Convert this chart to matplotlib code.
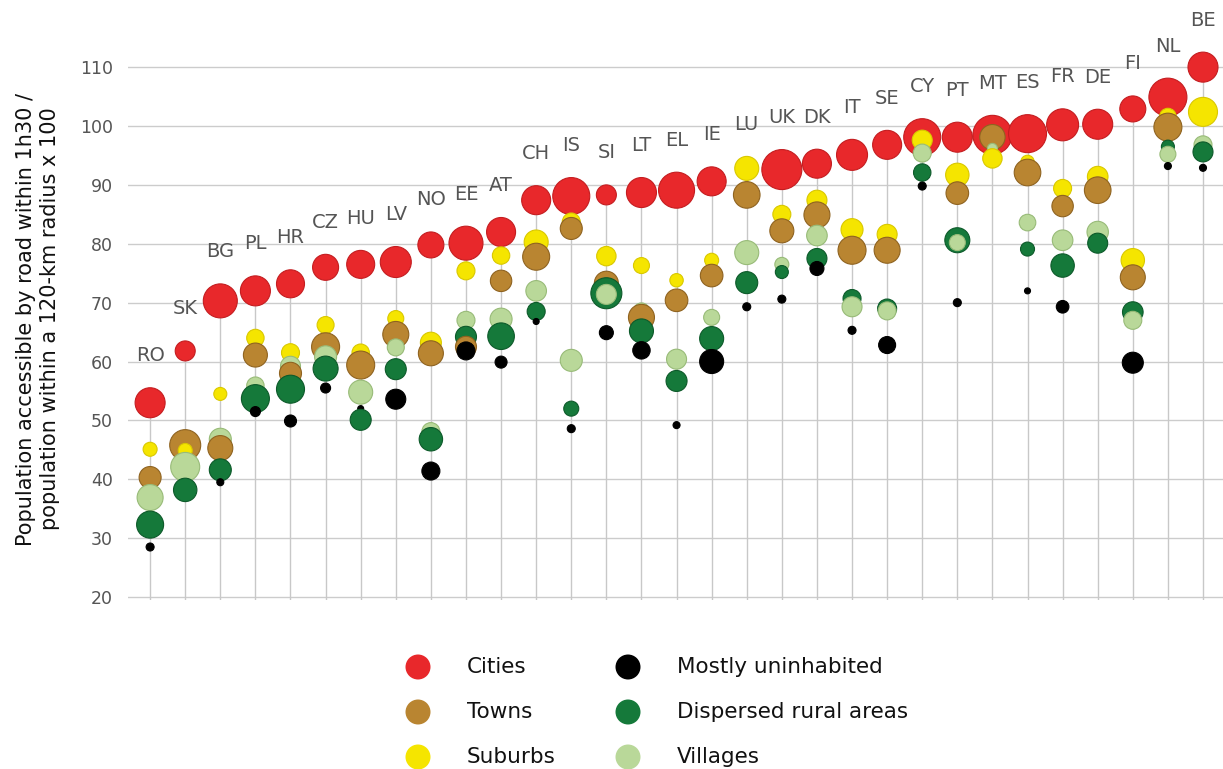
import numpy as np
import matplotlib
matplotlib.use("Agg")
import matplotlib.pyplot as plt

nan = np.nan

countries = ["RO", "SK", "BG", "PL", "HR", "CZ", "HU", "LV", "NO", "EE", "AT",
             "CH", "IS", "SI", "LT", "EL", "IE", "LU", "UK", "DK", "IT", "SE",
             "CY", "PT", "MT", "ES", "FR", "DE", "FI", "NL", "BE"]

cities = [53.0, 61.8, 70.3, 72.0, 73.2, 76.0, 76.5, 76.9, 79.8, 80.1, 82.0,
          87.4, 88.1, 88.3, 88.7, 89.1, 90.6, nan, 92.6, 93.6, 95.1, 96.8,
          98.1, 98.1, 98.5, 98.7, 100.2, 100.3, 102.9, 104.9, 110.0]
cities_r = [15, 10, 17, 15, 14, 13, 14, 15.5, 13, 17, 14.5,
            14.5, 18.5, 10, 15, 18, 14.5, nan, 20, 14.5, 15.5, 14.5,
            18.5, 15, 19.5, 19, 16, 15, 13, 19, 15]

towns = [40.3, 45.8, 45.3, 61.1, 58.0, 62.5, 59.4, 64.6, 61.4, 62.5, 73.7,
         77.8, 82.6, 73.3, 67.5, 70.4, 74.6, 88.3, 82.2, 84.9, 78.9, 78.9,
         99.2, 88.6, 98.1, 92.1, 86.4, 89.1, 74.3, 99.8, nan]
towns_r = [11, 15.5, 12.5, 12, 11, 14, 14, 13, 12.5, 10.5, 10.7,
           13.5, 11, 12, 13, 11.3, 11.3, 13.3, 12, 13, 14, 13,
           7, 11.3, 12.7, 13.3, 10.7, 13.3, 12.5, 14, nan]

suburbs = [45.1, 44.9, 54.5, 64.0, 61.5, 66.2, 61.5, 67.3, 63.2, 75.4, 78.0,
           80.3, 83.7, 77.9, 76.3, 73.8, 77.2, 92.8, 85.0, 87.4, 82.4, 81.6,
           97.6, 91.7, 94.5, 93.9, 89.4, 91.4, 77.2, 101.6, 102.4]
suburbs_r = [7, 7, 6.5, 8.7, 9, 8.5, 8.7, 8, 10.5, 9, 8.7,
             12, 9, 9.7, 8, 6.7, 7, 12, 9, 10, 11, 10,
             10, 11.7, 9.7, 6.7, 9, 10.3, 11.7, 8.3, 14.5]

mostly = [28.5, nan, 39.5, 51.5, 49.9, 55.5, 52.0, 53.6, 41.4, 61.8, 59.9,
          66.8, 48.6, 64.9, 61.9, 49.2, 60.0, 69.3, 70.6, 75.8, 65.3, 62.8,
          89.8, 70.0, nan, 72.0, 69.3, nan, 59.8, 93.2, 92.9]
mostly_r = [4, nan, 3.5, 5, 6, 5, 3, 10, 9, 9, 6,
            3, 4, 7, 8.7, 3.5, 12, 4, 4, 7, 4, 8.5,
            4, 4, nan, 3, 6.3, nan, 10.5, 3.5, 3.5]

dispersed = [32.3, 38.2, 41.6, 53.7, 55.3, 58.8, 50.1, 58.7, 46.8, 64.2, 64.3,
             68.5, 52.0, 71.6, 65.2, 56.7, 63.9, 73.4, 75.2, 77.5, 70.7, 69.0,
             92.1, 80.6, nan, 79.1, 76.3, 80.1, 68.4, 96.5, 95.6]
dispersed_r = [13.5, 11.7, 11, 14, 14, 12.5, 10.5, 10.5, 11.7, 10.5, 13.3,
               9, 7.5, 15.5, 12, 10.5, 12, 11, 6.5, 10, 9, 9.5,
               8.7, 12.5, nan, 7, 11.7, 10, 10.3, 6.5, 10]

villages = [36.9, 42.1, 46.8, 55.9, 59.2, 60.8, 54.8, 62.4, 48.1, 67.0, 67.2,
            72.0, 60.2, 71.4, 68.6, 60.4, 67.5, 78.5, 76.5, 81.4, 69.3, 68.6,
            95.4, 80.2, 96.2, 83.6, 80.6, 82.0, 67.0, 95.2, 96.8]
villages_r = [13, 14.5, 11, 8.7, 10, 11, 12, 8.5, 9, 9, 11,
              10.3, 11, 10, 8, 10, 8, 12, 7, 10.3, 10, 9,
              9, 8, 5, 8.3, 10.3, 10.7, 9, 8, 9]

series_names = ["Cities", "Towns", "Suburbs",
                "Mostly uninhabited", "Dispersed rural areas", "Villages"]
series_vals = [cities, towns, suburbs, mostly, dispersed, villages]
series_rad = [cities_r, towns_r, suburbs_r, mostly_r, dispersed_r, villages_r]
series_colors = ["#e8282b", "#b98531", "#f5e500", "#000000", "#15793a", "#b9d899"]
edge_colors = ["#c41d20", "#8f6320", "#d9c800", "#000000", "#0d5a2a", "#98bb78"]

yticks = [20, 30, 40, 50, 60, 70, 80, 90, 100, 110]
ylabel = "Population accessible by road within 1h30 /\npopulation within a 120-km radius x 100"

W, H, DPI = 1223, 769, 100
fig = plt.figure(figsize=(W / DPI, H / DPI), dpi=DPI)
ax = fig.add_axes([128 / W, 1 - 600 / H, 1 - 128 / W, 600 / H])

n = len(countries)
x = np.arange(n)
ax.set_xlim(-0.63, 30.57)
ax.set_ylim(19.5, 121.4)

for sp in ax.spines.values():
    sp.set_visible(False)
ax.set_xticks([])
ax.set_yticks(yticks)
ax.set_yticklabels([str(t) for t in yticks], fontsize=12.5, color="#555555")
ax.tick_params(axis="y", length=0, pad=11)
for t in yticks:
    ax.axhline(t, color="#cccccc", lw=1, zorder=0)

px2pt = 72.0 / DPI
fig.canvas.draw()

for i in range(n):
    pts = []
    for k in range(6):
        v = series_vals[k][i]
        r = series_rad[k][i]
        if not np.isnan(v):
            pts.append((v, r, k))
    top = max(p[0] for p in pts)
    ax.plot([i, i], [19.5, top], color="#c8c8c8", lw=1, zorder=1)
    pts.sort(key=lambda p: -p[0])
    vs = [p[0] for p in pts]
    ss = [(2 * p[1] * px2pt) ** 2 for p in pts]
    cs = [series_colors[p[2]] for p in pts]
    es = [edge_colors[p[2]] for p in pts]
    ax.scatter([i] * len(pts), vs, s=ss, c=cs, edgecolors=es, linewidths=0.8,
               zorder=3)
    top_edge = max(ax.transData.transform((i, p[0]))[1] + p[1] for p in pts)
    ylab = ax.transData.inverted().transform((0, top_edge + 32))[1]
    ax.text(i, ylab, countries[i], ha="center", va="center", fontsize=14,
            color="#555555", clip_on=False)

fig.text(38 / W, 1 - 319 / H, ylabel, rotation=90, ha="center", va="center",
         multialignment="center", fontsize=15, linespacing=1.3,
         color="#111111")

# legend
lax = fig.add_axes([0, 0, 1, 1])
lax.set_xlim(0, W)
lax.set_ylim(H, 0)
lax.axis("off")
lax.patch.set_alpha(0)
leg_order = [(0, 418, 667), (1, 418, 712), (2, 418, 757),
             (3, 628, 667), (4, 628, 712), (5, 628, 757)]
for k, lx, ly in leg_order:
    lax.scatter([lx], [ly], s=(2 * 12.5 * px2pt) ** 2, c=series_colors[k],
                edgecolors="none", zorder=3, clip_on=False)
    lax.text(lx + 49, ly, series_names[k], ha="left", va="center",
             fontsize=15.5, color="#111111")

fig.savefig("out.png", dpi=DPI)
